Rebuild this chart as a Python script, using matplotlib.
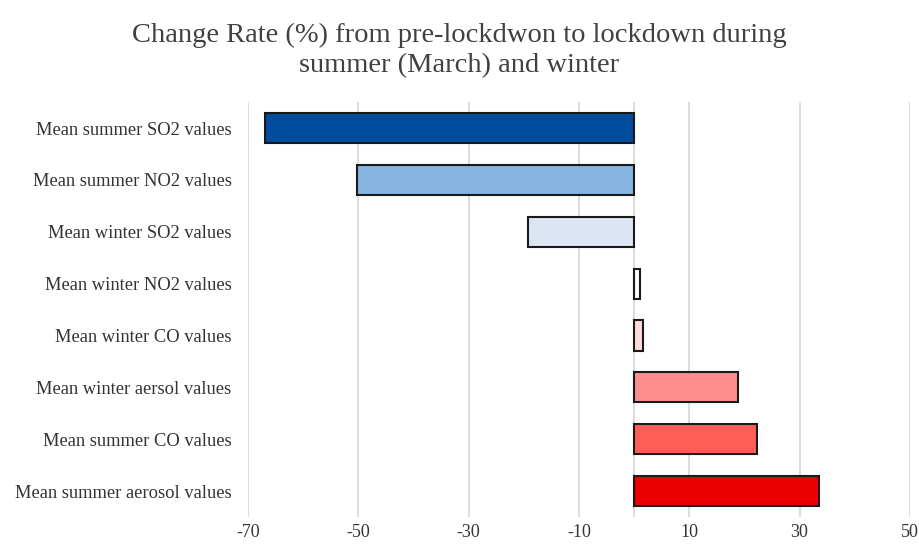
import matplotlib
matplotlib.use("Agg")
import matplotlib.pyplot as plt

categories = [
    "Mean summer SO2 values",
    "Mean summer NO2 values",
    "Mean winter SO2 values",
    "Mean winter NO2 values",
    "Mean winter CO values",
    "Mean winter aersol values",
    "Mean summer CO values",
    "Mean summer aerosol values",
]
values = [-66.9, -50.2, -19.3, 1.1, 1.7, 18.8, 22.3, 33.6]
colors = ["#004DA0", "#85B4E0", "#DDE5F5", "#FFFFFF",
          "#FFDADA", "#FF8F8F", "#FF5F57", "#EE0000"]
xticks = [-70, -50, -30, -10, 10, 30, 50]

plt.rcParams['font.family'] = ['Liberation Serif', 'DejaVu Serif']

fig = plt.figure(figsize=(9.19, 5.46), dpi=100)
ax = fig.add_axes([0.27, 0.053, 0.72, 0.76])

y = list(range(len(categories)))
ax.barh(y, values, height=0.58, color=colors, edgecolor="#1a1a1a",
        linewidth=1.5, zorder=3)
ax.set_ylim(len(categories) - 0.5, -0.5)
ax.set_xlim(-70, 50)
ax.set_yticks(y)
ax.set_yticklabels(categories, fontsize=13.3, color="#333333")
ax.set_xticks(xticks)
ax.set_xticklabels([str(t) for t in xticks], fontsize=13, color="#333333")
ax.xaxis.grid(True, color="#D9D9D9", linewidth=1.3, zorder=0)
ax.axvline(0, color="#D9D9D9", linewidth=1.3, zorder=1)
for s in ax.spines.values():
    s.set_visible(False)
ax.tick_params(axis="both", length=0)
ax.tick_params(axis="y", pad=12)
ax.tick_params(axis="x", pad=5)

fig.text(0.5, 0.908, "Change Rate (%) from pre-lockdwon to lockdown during\nsummer (March) and winter",
         ha="center", va="center", fontsize=20.5, color="#404040", linespacing=1.25)

fig.savefig("out.png", dpi=100, facecolor="white")
